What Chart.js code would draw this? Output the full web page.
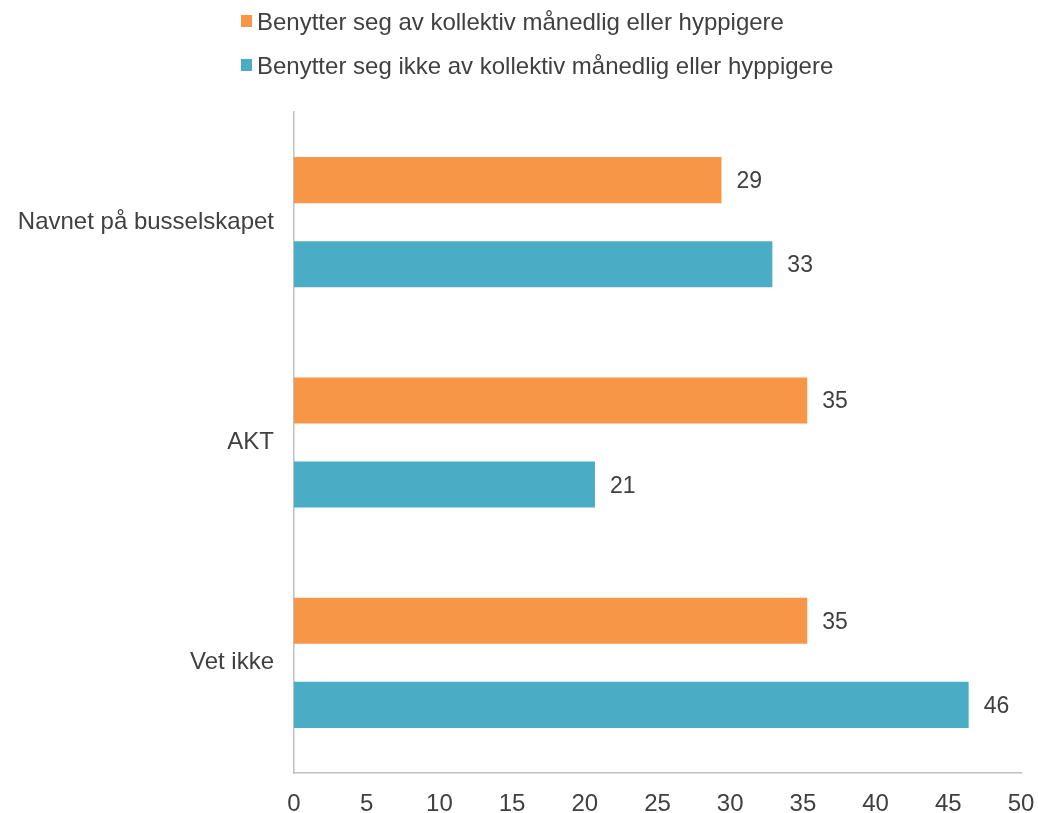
<!DOCTYPE html>
<html><head><meta charset="utf-8">
<script src="https://cdn.jsdelivr.net/npm/chart.js@4/dist/chart.umd.min.js"></script>
<style>html,body{margin:0;padding:0;background:#fff}#wrap{width:1038px;height:813px;position:relative}</style>
</head><body><div id="wrap"><canvas id="c" width="1038" height="813"></canvas></div>
<script>
const categories = ["Navnet på busselskapet", "AKT", "Vet ikke"];
const seriesNames = ["Benytter seg av kollektiv månedlig eller hyppigere", "Benytter seg ikke av kollektiv månedlig eller hyppigere"];
const usersValues = [29.4, 35.3, 35.3];
const nonUsersValues = [32.9, 20.7, 46.4];
const xTicks = [0, 5, 10, 15, 20, 25, 30, 35, 40, 45, 50];
const colors = ["#F79646", "#4BACC6"];
const FONT = "'Liberation Sans', Arial, sans-serif";
const TXT = "#404040";
const FS = 24;

const legendPlugin = {
  id: 'customLegend',
  afterDraw(chart) {
    const ctx = chart.ctx;
    ctx.save();
    ctx.font = FS + "px " + FONT;
    ctx.textBaseline = 'alphabetic';
    const rows = [30, 74];
    chart.data.datasets.forEach((ds, i) => {
      ctx.fillStyle = ds.backgroundColor;
      ctx.fillRect(241, rows[i] - 15, 11, 12);
      ctx.fillStyle = TXT;
      ctx.textAlign = 'left';
      ctx.fillText(ds.label, 257, rows[i]);
    });
    ctx.restore();
  }
};

const labelPlugin = {
  id: 'dataLabels',
  afterDatasetsDraw(chart) {
    const ctx = chart.ctx;
    ctx.save();
    ctx.font = "23px " + FONT;
    ctx.fillStyle = TXT;
    ctx.textBaseline = 'alphabetic';
    ctx.textAlign = 'left';
    chart.data.datasets.forEach((ds, i) => {
      chart.getDatasetMeta(i).data.forEach((bar, j) => {
        ctx.fillText(String(Math.round(ds.data[j])), bar.x + 15, bar.y + 8);
      });
    });
    ctx.restore();
  }
};

new Chart(document.getElementById('c'), {
  type: 'bar',
  data: {
    labels: categories,
    datasets: [
      { label: seriesNames[0], data: usersValues, backgroundColor: colors[0] },
      { label: seriesNames[1], data: nonUsersValues, backgroundColor: colors[1] }
    ]
  },
  options: {
    indexAxis: 'y',
    responsive: false,
    animation: false,
    categoryPercentage: 0.7636,
    barPercentage: 0.5476,
    layout: { padding: { top: 112, right: 17, left: 0, bottom: 0 } },
    plugins: { legend: { display: false }, tooltip: { enabled: false } },
    scales: {
      x: {
        min: 0, max: 50,
        afterBuildTicks(scale) { scale.ticks = xTicks.map(v => ({ value: v })); },
        afterFit(scale) { scale.height = 40; scale.paddingRight = 0; scale.paddingLeft = 0; },
        grid: { display: false, drawTicks: false },
        border: { display: true, color: '#BFBFBF', width: 1.5 },
        ticks: { color: TXT, font: { family: FONT, size: FS }, padding: 17, maxRotation: 0 }
      },
      y: {
        afterFit(scale) { scale.width = 294; scale.paddingTop = 0; scale.paddingBottom = 0; },
        grid: { display: false, drawTicks: false },
        border: { display: true, color: '#BFBFBF', width: 1.5 },
        ticks: { color: TXT, font: { family: FONT, size: FS }, padding: 20 }
      }
    }
  },
  plugins: [legendPlugin, labelPlugin]
});
</script></body></html>
